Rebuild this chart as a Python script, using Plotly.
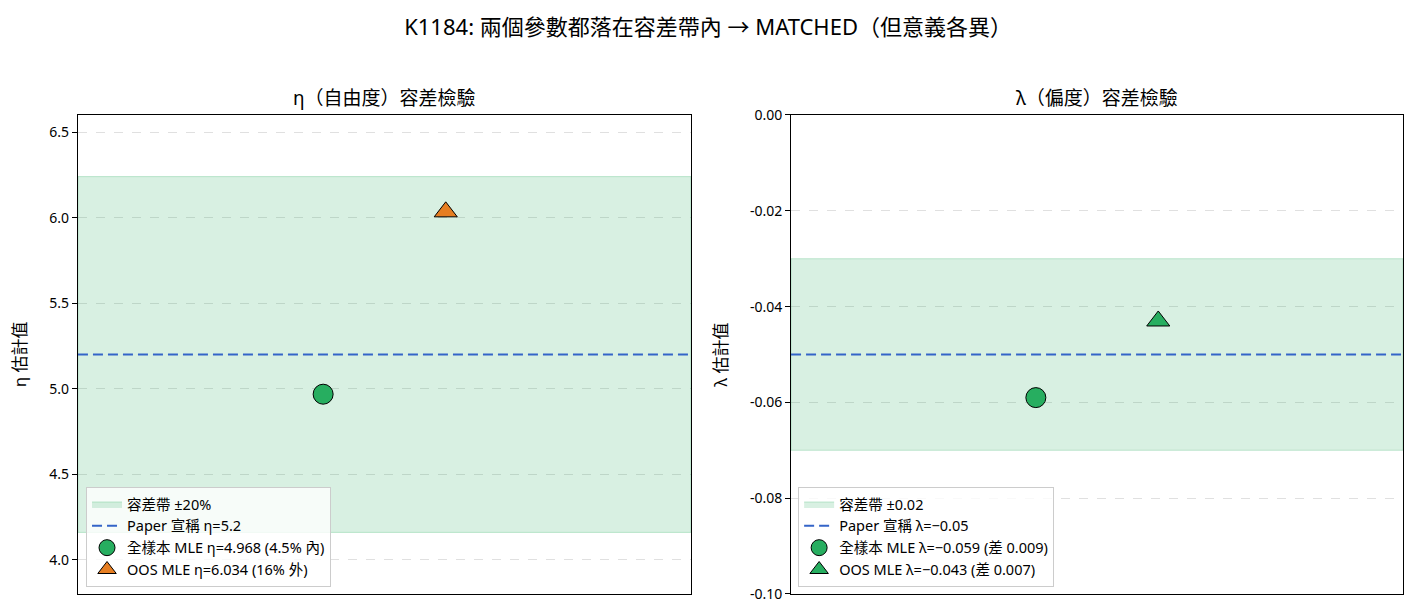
import plotly.graph_objects as go
from plotly.subplots import make_subplots

# 數值 (K1184)
eta_paper = 5.2
eta_tol = 0.20          # ±20%
eta_full = 4.968
eta_oos = 6.034

lam_paper = -0.05
lam_tol = 0.02          # ±0.02
lam_full = -0.059
lam_oos = -0.043

x_pos = [0.4, 0.6]      # 全樣本, OOS

eta_ticks = [4.0, 4.5, 5.0, 5.5, 6.0, 6.5]
lam_ticks = [0.00, -0.02, -0.04, -0.06, -0.08, -0.10]

GREEN = "#27ae60"
ORANGE = "#e67e22"
BLUE = "#3464c8"
FONT = "Noto Sans, Noto Sans CJK TC"

fig = make_subplots(rows=1, cols=2, subplot_titles=["η（自由度）容差檢驗", "λ（偏度）容差檢驗"])

def band(lo, hi, name, legend):
    return go.Scatter(x=[0, 1, 1, 0, 0], y=[lo, lo, hi, hi, lo], fill="toself",
                      fillcolor="rgba(39,174,96,0.18)", line=dict(color="rgba(39,174,96,0.25)", width=1),
                      mode="lines", name=name, legend=legend, hoverinfo="skip")

def marker(sym, col):
    return dict(symbol=sym, size=20, color=col, line=dict(color="black", width=1))

# 左: η
fig.add_trace(band(eta_paper * (1 - eta_tol), eta_paper * (1 + eta_tol), "容差帶 ±20%", "legend"), 1, 1)
fig.add_trace(go.Scatter(x=[0, 1], y=[eta_paper, eta_paper], mode="lines",
                         line=dict(color=BLUE, width=2, dash="10px,5px"),
                         name="Paper 宣稱 η=5.2", legend="legend"), 1, 1)
fig.add_trace(go.Scatter(x=[x_pos[0]], y=[eta_full], mode="markers", marker=marker("circle", GREEN),
                         name="全樣本 MLE η=4.968 (4.5% 內)", legend="legend"), 1, 1)
fig.add_trace(go.Scatter(x=[x_pos[1]], y=[eta_oos], mode="markers", marker=marker("triangle-up", ORANGE),
                         name="OOS MLE η=6.034 (16% 外)", legend="legend"), 1, 1)

# 右: λ
fig.add_trace(band(lam_paper - lam_tol, lam_paper + lam_tol, "容差帶 ±0.02", "legend2"), 1, 2)
fig.add_trace(go.Scatter(x=[0, 1], y=[lam_paper, lam_paper], mode="lines",
                         line=dict(color=BLUE, width=2, dash="10px,5px"),
                         name="Paper 宣稱 λ=−0.05", legend="legend2"), 1, 2)
fig.add_trace(go.Scatter(x=[x_pos[0]], y=[lam_full], mode="markers", marker=marker("circle", GREEN),
                         name="全樣本 MLE λ=−0.059 (差 0.009)", legend="legend2"), 1, 2)
fig.add_trace(go.Scatter(x=[x_pos[1]], y=[lam_oos], mode="markers", marker=marker("triangle-up", GREEN),
                         name="OOS MLE λ=−0.043 (差 0.007)", legend="legend2"), 1, 2)

axis_common = dict(showline=True, linecolor="black", linewidth=1, mirror=True, zeroline=False, automargin=False)
fig.update_xaxes(range=[0, 1], showticklabels=False, ticks="", showgrid=False, **axis_common)
fig.update_yaxes(ticks="outside", ticklen=5, tickcolor="black", showgrid=True, gridcolor="#e0e0e0",
                 griddash="dash", gridwidth=1, tickfont=dict(size=14, color="black"), **axis_common)

# 頁面有 8px 邊距, 座標已扣除
fig.update_xaxes(domain=[0.0494, 0.4823], row=1, col=1)
fig.update_xaxes(domain=[0.5530, 0.9852], row=1, col=2)
fig.update_yaxes(domain=[0.0487, 0.8263])
fig.update_yaxes(range=[3.8, 6.6], tickvals=eta_ticks, ticktext=[f"{v:.1f}" for v in eta_ticks],
                 title=dict(text="η 估計值", font=dict(size=17), standoff=18), row=1, col=1)
fig.update_yaxes(range=[-0.10, 0.0], tickvals=lam_ticks, ticktext=[f"{v:.2f}" for v in lam_ticks],
                 title=dict(text="λ 估計值", font=dict(size=17), standoff=18), row=1, col=2)

for ann, xc in zip(fig.layout.annotations, [0.2659, 0.7691]):
    ann.font = dict(size=19, color="black", family=FONT)
    ann.x = xc
    ann.y = 0.854
    ann.yanchor = "middle"

legend_style = dict(bgcolor="rgba(255,255,255,0.8)", bordercolor="#cccccc", borderwidth=1,
                    font=dict(size=14.5, color="black"), xanchor="left", yanchor="bottom",
                    tracegroupgap=0, itemwidth=30)
fig.update_layout(
    width=1416, height=616,
    margin=dict(l=0, r=0, t=0, b=0),
    paper_bgcolor="white", plot_bgcolor="white",
    font=dict(family=FONT, color="black"),
    title=dict(text="K1184: 兩個參數都落在容差帶內 → MATCHED（但意義各異）",
               x=0.4944, xanchor="center", y=0.968, yanchor="middle", font=dict(size=22)),
    legend=dict(x=0.0551, y=0.060, **legend_style),
    legend2=dict(x=0.558, y=0.060, **legend_style),
)

fig.write_html("out.html")
